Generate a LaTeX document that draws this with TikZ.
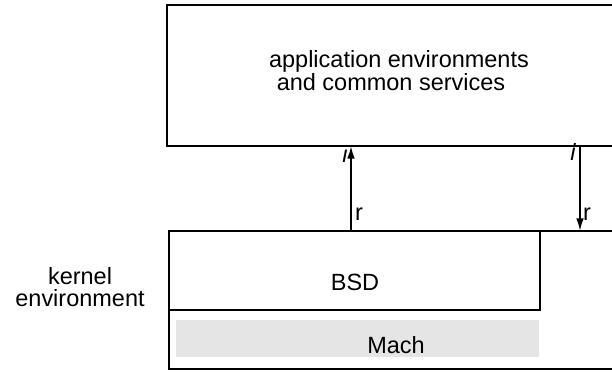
\documentclass[tikz,border=0pt]{standalone}
\usepackage{fontspec}
\setmainfont{Liberation Sans}
\usetikzlibrary{arrows.meta}
\begin{document}
\begin{tikzpicture}[x=0.025cm,y=-0.025cm,
        box/.style={line width=1.8pt,black},
        link/.style={line width=1.3pt,black,-{Latex[length=9pt,width=5.5pt]}},
        txt/.style={anchor=base,inner sep=0pt,font=\fontsize{16.7}{16}\selectfont}]
        \useasboundingbox (0,0) rectangle (612,371);
        \fill[gray!20] (176,320) rectangle (539,357);
        \draw[box] (612,5) -- (167,5) -- (167,146) -- (612,146);
        \draw[box] (612,231) -- (169,231) -- (169,369) -- (612,369);
        \draw[box] (169,231) rectangle (540,310);
        \node[txt] (app1) at (399,67) {application environments};
        \node[txt] (app2) at (391,90) {and common services};
        \node[txt] (bsd) at (355,290) {BSD};
        \node[txt] (mach) at (396,353) {Mach};
        \node[txt] (kern1) at (80,284) {kernel};
        \node[txt] (kern2) at (80,306) {environment};
        \coordinate (upL) at (351,146);
        \coordinate (loL) at (351,231);
        \coordinate (upR) at (580,146);
        \coordinate (loR) at (580,231);
        \draw[link] (loL) -- (upL);
        \draw[link] (upR) -- (loR);
        \node[txt,font=\fontsize{16.7}{16}\selectfont\itshape] (iL) at (345,162) {i};
        \node[txt] (rL) at (359,220) {r};
        \node[txt,font=\fontsize{16.7}{16}\selectfont\itshape] (iR) at (573,160) {i};
        \node[txt] (rR) at (587,220) {r};
\end{tikzpicture}
\end{document}
